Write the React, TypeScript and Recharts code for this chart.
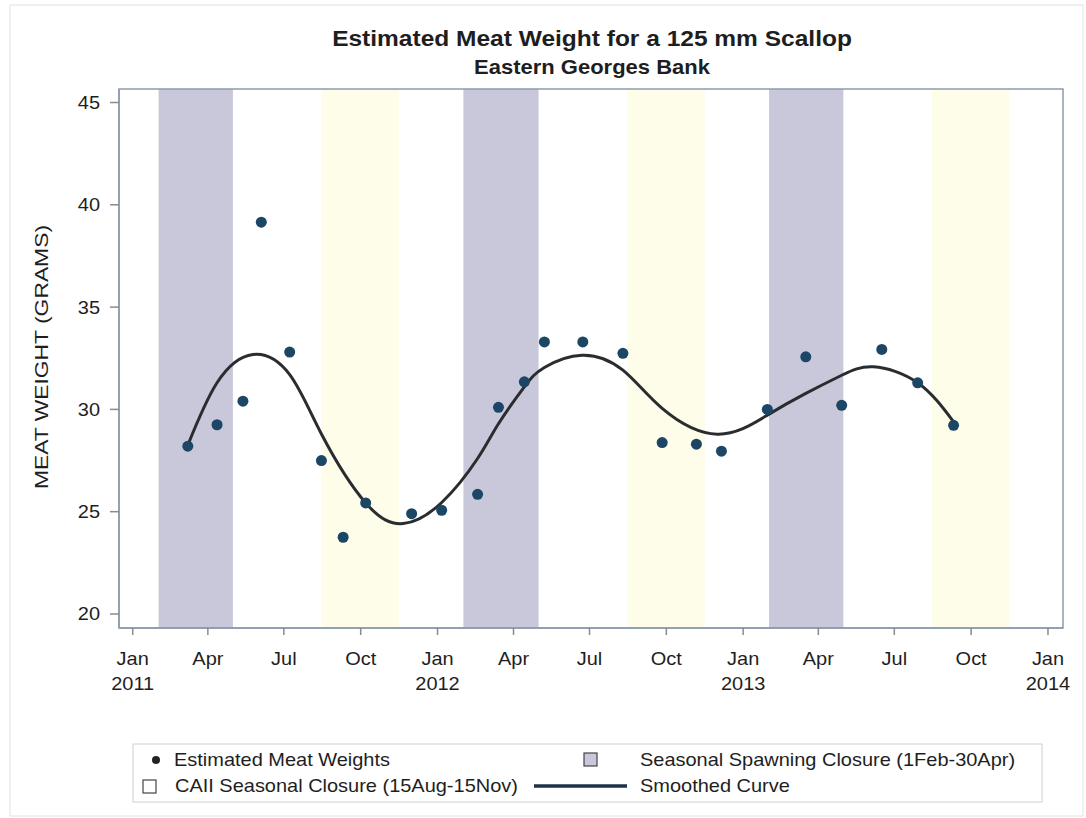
import React from 'react';
import { ComposedChart, XAxis, YAxis, Scatter, Line, ReferenceArea } from 'recharts';

const FONT = '"Liberation Sans", Arial, Helvetica, sans-serif';

// Survey sample dates and estimated meat weight (g) of a 125 mm scallop
const sampleDates = [
  '2011-03-08', '2011-04-12', '2011-05-13', '2011-06-04', '2011-07-08',
  '2011-08-15', '2011-09-10', '2011-10-07', '2011-12-01', '2012-01-06',
  '2012-02-18', '2012-03-14', '2012-04-14', '2012-05-08', '2012-06-23',
  '2012-08-10', '2012-09-26', '2012-11-06', '2012-12-06', '2013-01-30',
  '2013-03-17', '2013-04-29', '2013-06-16', '2013-07-29', '2013-09-10',
];
const sampleWeights = [
  28.2, 29.25, 30.4, 39.15, 32.8,
  27.5, 23.75, 25.43, 24.9, 25.07,
  25.85, 30.1, 31.35, 33.3, 33.3,
  32.74, 28.38, 28.3, 27.96, 30.0,
  32.57, 30.2, 32.93, 31.3, 29.22,
];

// Smoothed (loess) curve evaluated over the sampling period
const curveDates = [
  '2011-03-08', '2011-04-12', '2011-05-25', '2011-07-08', '2011-08-15',
  '2011-10-07', '2011-11-21', '2012-01-06', '2012-02-18', '2012-03-14',
  '2012-04-14', '2012-05-08', '2012-06-22', '2012-08-10', '2012-09-26',
  '2012-12-01', '2013-01-30', '2013-03-17', '2013-04-29', '2013-06-06',
  '2013-07-29', '2013-09-10',
];
const curveWeights = [
  28.25, 31.3, 32.68, 31.7, 28.8,
  25.43, 24.42, 25.45, 27.6, 29.3,
  31.1, 32.05, 32.65, 31.92, 30.05,
  28.79, 29.72, 30.78, 31.67, 32.08,
  31.3, 29.39,
];

// Quarterly tick dates on the time axis
const quarterTicks = [
  '2011-01-01', '2011-04-01', '2011-07-01', '2011-10-01',
  '2012-01-01', '2012-04-01', '2012-07-01', '2012-10-01',
  '2013-01-01', '2013-04-01', '2013-07-01', '2013-10-01',
  '2014-01-01',
];
const monthNames = ['Jan', 'Feb', 'Mar', 'Apr', 'May', 'Jun', 'Jul', 'Aug', 'Sep', 'Oct', 'Nov', 'Dec'];
const weightTicks = [20, 25, 30, 35, 40, 45];

// Closure seasons
const closureYears = [2011, 2012, 2013];
const spawningStart = '02-01'; // 1 Feb
const spawningEnd = '05-01'; // through 30 Apr
const caiiStart = '08-15'; // 15 Aug
const caiiEnd = '11-16'; // through 15 Nov

const ORIGIN = Date.UTC(2011, 0, 1);
const dayOf = (s: string) => {
  const [y, m, d] = s.split('-').map(Number);
  return (Date.UTC(y, m - 1, d) - ORIGIN) / 86400000;
};
const dateOfDay = (day: number) => new Date(ORIGIN + Math.round(day) * 86400000);

const points = sampleDates.map((d, i) => ({ day: dayOf(d), w: sampleWeights[i] }));
const curve = curveDates.map((d, i) => ({ day: dayOf(d), w: curveWeights[i] }));

const X_DOMAIN: [number, number] = [-16.4, 1114];
const Y_DOMAIN: [number, number] = [19.315, 45.66];

const SPAWN_FILL = '#c9c8da';
const CAII_FILL = '#fdfdea';
const POINT_FILL = '#1b4665';
const CURVE_STROKE = '#2a2d30';
const FRAME = '#8d9aae';
const TEXT = '#1e1e1e';
const SX = 1.11;

const MonthTick = (props: any) => {
  const { x, payload } = props;
  const dt = dateOfDay(payload.value);
  const m = dt.getUTCMonth();
  return (
    <g>
      <text
        transform={`translate(${x},665) scale(${SX},1)`}
        textAnchor="middle"
        fontFamily={FONT}
        fontSize={18}
        fill={TEXT}
      >
        {monthNames[m]}
      </text>
      {m === 0 && (
        <text
          transform={`translate(${x},690) scale(${SX},1)`}
          textAnchor="middle"
          fontFamily={FONT}
          fontSize={18}
          fill={TEXT}
        >
          {dt.getUTCFullYear()}
        </text>
      )}
    </g>
  );
};

const WeightTick = (props: any) => {
  const { x, y, payload } = props;
  return (
    <text
      transform={`translate(${x},${y}) scale(${SX},1)`}
      textAnchor="end"
      dy="0.36em"
      fontFamily={FONT}
      fontSize={18}
      fill={TEXT}
    >
      {payload.value}
    </text>
  );
};

const Txt = ({ x, y, children, size = 18, weight = 'normal', anchor = 'start', sx = SX, rotate = 0 }: any) => (
  <text
    transform={`translate(${x},${y}) rotate(${rotate}) scale(${sx},1)`}
    textAnchor={anchor}
    fontFamily={FONT}
    fontSize={size}
    fontWeight={weight}
    fill={TEXT}
  >
    {children}
  </text>
);

export default function App() {
  return (
    <div style={{ position: 'absolute', left: 0, top: 0, width: 1086, height: 818, background: '#fff' }}>
      <ComposedChart
        width={1086}
        height={818}
        margin={{ top: 89, right: 23, bottom: 130, left: 0 }}
        style={{ position: 'absolute', left: 0, top: 0 }}
      >
        {closureYears.map((yr) => (
          <ReferenceArea
            key={`sp-${yr}`}
            x1={dayOf(`${yr}-${spawningStart}`)}
            x2={dayOf(`${yr}-${spawningEnd}`)}
            fill={SPAWN_FILL}
            fillOpacity={1}
            stroke="none"
          />
        ))}
        {closureYears.map((yr) => (
          <ReferenceArea
            key={`ca-${yr}`}
            x1={dayOf(`${yr}-${caiiStart}`)}
            x2={dayOf(`${yr}-${caiiEnd}`)}
            fill={CAII_FILL}
            fillOpacity={1}
            stroke="none"
          />
        ))}
        <XAxis
          type="number"
          dataKey="day"
          domain={X_DOMAIN}
          allowDataOverflow
          ticks={quarterTicks.map(dayOf)}
          interval={0}
          height={60}
          tickSize={7}
          tickMargin={0}
          axisLine={{ stroke: FRAME, strokeWidth: 1.5 }}
          tickLine={{ stroke: '#8a8a8a', strokeWidth: 1.5 }}
          tick={(p: any) => <MonthTick {...p} />}
        />
        <YAxis
          type="number"
          domain={Y_DOMAIN}
          allowDataOverflow
          ticks={weightTicks}
          interval={0}
          width={119}
          tickSize={9}
          tickMargin={10}
          axisLine={{ stroke: FRAME, strokeWidth: 1.5 }}
          tickLine={{ stroke: '#8a8a8a', strokeWidth: 1.5 }}
          tick={(p: any) => <WeightTick {...p} />}
        />
        <Line
          data={curve}
          dataKey="w"
          type="natural"
          stroke={CURVE_STROKE}
          strokeWidth={3}
          dot={false}
          activeDot={false}
          isAnimationActive={false}
        />
        <Scatter
          data={points}
          dataKey="w"
          fill={POINT_FILL}
          isAnimationActive={false}
          shape={(p: any) => <circle cx={p.cx} cy={p.cy} r={5.5} fill={POINT_FILL} />}
        />
        <ReferenceArea
          x1={X_DOMAIN[0]}
          x2={X_DOMAIN[1]}
          y1={Y_DOMAIN[0]}
          y2={Y_DOMAIN[1]}
          fill="none"
          stroke={FRAME}
          strokeWidth={1.5}
        />
      </ComposedChart>

      <svg
        width={1086}
        height={818}
        style={{ position: 'absolute', left: 0, top: 0, pointerEvents: 'none' }}
      >
        <rect x={10} y={5} width={1073} height={811} fill="none" stroke="#e2e2e2" strokeWidth={1} />

        <Txt x={592} y={46} size={22.5} weight="bold" anchor="middle" sx={1.09}>
          Estimated Meat Weight for a 125 mm Scallop
        </Txt>
        <Txt x={592} y={74} size={20} weight="bold" anchor="middle" sx={1.1}>
          Eastern Georges Bank
        </Txt>

        <Txt x={48} y={357} size={18} anchor="middle" rotate={-90} sx={1.27}>
          MEAT WEIGHT (GRAMS)
        </Txt>

        <rect x={133} y={744} width={909} height={58} fill="none" stroke="#cfcfcf" strokeWidth={1} />
        <circle cx={156} cy={760} r={4} fill="#222" />
        <Txt x={174} y={766}>Estimated Meat Weights</Txt>
        <rect x={584} y={753} width={13} height={13} fill={SPAWN_FILL} stroke="#444" strokeWidth={1.2} />
        <Txt x={640} y={766}>Seasonal Spawning Closure (1Feb-30Apr)</Txt>
        <rect x={143} y={780} width={13} height={13} fill="#fff" stroke="#444" strokeWidth={1.2} />
        <Txt x={175} y={792}>CAII Seasonal Closure (15Aug-15Nov)</Txt>
        <line x1={534} x2={627} y1={786} y2={786} stroke="#1d3247" strokeWidth={3.5} />
        <Txt x={640} y={792}>Smoothed Curve</Txt>
      </svg>
    </div>
  );
}
